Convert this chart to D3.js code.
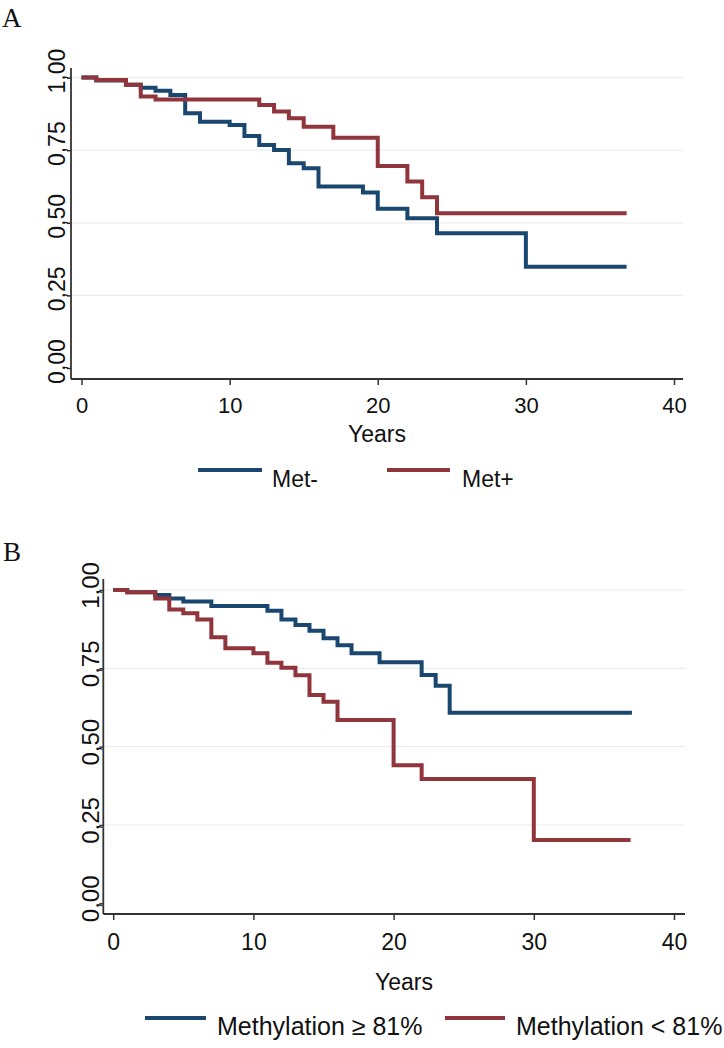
<!DOCTYPE html>
<html>
<head>
<meta charset="utf-8">
<script src="https://cdn.jsdelivr.net/npm/d3@7"></script>
<style>
  html, body { margin: 0; padding: 0; background: #fff; }
  svg { display: block; }
  text { font-family: "Liberation Sans", Arial, sans-serif; fill: #111; }
  .panel-label { font-family: "Liberation Serif", "Times New Roman", serif; }
</style>
</head>
<body>
<svg id="chart" width="724" height="1048"></svg>
<script>
// ---------- data ----------
const xTicks = [0, 10, 20, 30, 40];
const yTicks = [0, 0.25, 0.5, 0.75, 1];
const yTickLabels = ["0,00", "0,25", "0,50", "0,75", "1,00"];
const xAxisTitle = "Years";

// Panel A
const panelALabel = "A";
const seriesANames = ["Met-", "Met+"];
const metNegTimes = [0, 1, 3, 4, 5, 6, 7, 8, 10, 11, 12, 13, 14, 15, 16, 19, 20, 22, 24, 30, 36.8];
const metNegSurv  = [1, 0.99, 0.975, 0.965, 0.955, 0.94, 0.877, 0.848, 0.837, 0.799, 0.768, 0.751, 0.705, 0.688, 0.625, 0.604, 0.548, 0.516, 0.464, 0.349, 0.349];
const metPosTimes = [0, 1, 3, 4, 5, 12, 13, 14, 15, 17, 20, 22, 23, 24, 36.8];
const metPosSurv  = [1, 0.992, 0.975, 0.935, 0.925, 0.906, 0.883, 0.860, 0.831, 0.793, 0.696, 0.642, 0.588, 0.533, 0.533];

// Panel B
const panelBLabel = "B";
const seriesBNames = ["Methylation \u2265 81%", "Methylation < 81%"];
const methHighTimes = [0, 1, 3, 4, 5, 7, 11, 12, 13, 14, 15, 16, 17, 19, 22, 23, 24, 37];
const methHighSurv  = [1, 0.993, 0.984, 0.973, 0.963, 0.949, 0.934, 0.906, 0.888, 0.870, 0.846, 0.824, 0.798, 0.769, 0.729, 0.694, 0.608, 0.608];
const methLowTimes  = [0, 1, 3, 4, 5, 6, 7, 8, 10, 11, 12, 13, 14, 15, 16, 20, 22, 30, 36.9];
const methLowSurv   = [1, 0.993, 0.973, 0.938, 0.926, 0.906, 0.849, 0.814, 0.798, 0.768, 0.752, 0.728, 0.665, 0.643, 0.585, 0.441, 0.397, 0.202, 0.202];

const colors = ["#1a476f", "#90353b"];

// ---------- drawing ----------
const svg = d3.select("#chart");

function zip(t, s) { return t.map((v, i) => ({ t: v, s: s[i] })); }

function drawPanel(cfg) {
  const g = svg.append("g");
  const x = d3.scaleLinear().domain([0, 40]).range([cfg.x0, cfg.x40]);
  const y = d3.scaleLinear().domain([0, 1]).range([cfg.y0, cfg.y1]);

  // panel label
  g.append("text").attr("class", "panel-label")
    .attr("x", cfg.labelX).attr("y", cfg.labelY)
    .style("font-size", "27px").text(cfg.label);

  // gridlines
  g.selectAll("line.grid").data(yTicks.filter(d => d > 0)).enter()
    .append("line").attr("class", "grid")
    .attr("x1", cfg.left).attr("x2", cfg.right)
    .attr("y1", d => y(d)).attr("y2", d => y(d))
    .attr("stroke", "#ececec").attr("stroke-width", 1.2);

  // x axis
  const xa = g.append("g").attr("transform", `translate(0,${cfg.bottom})`)
    .call(d3.axisBottom(x).tickValues(xTicks).tickSize(6).tickFormat(d3.format("d")));
  xa.select(".domain").remove();
  xa.selectAll(".tick line").attr("stroke", "#333").attr("stroke-width", 1.5);
  xa.selectAll(".tick text").attr("y", cfg.xLabelDy).attr("dy", 0)
    .style("font-size", cfg.tickFont + "px").attr("fill", "#111");

  // y axis
  const ya = g.append("g").attr("transform", `translate(${cfg.left},0)`)
    .call(d3.axisLeft(y).tickValues(yTicks).tickSize(4).tickFormat((d, i) => yTickLabels[i]));
  ya.select(".domain").remove();
  ya.selectAll(".tick line").attr("stroke", "#333").attr("stroke-width", 1.5);
  ya.selectAll(".tick text")
    .attr("x", 0).attr("y", 0).attr("dy", 0)
    .attr("text-anchor", "middle")
    .attr("transform", `translate(${cfg.yLabelDx},${cfg.yLabelDy}) rotate(-90)`)
    .style("font-size", cfg.yTickFont + "px").attr("fill", "#111");

  // axis lines
  g.append("line").attr("x1", cfg.left).attr("x2", cfg.left)
    .attr("y1", cfg.top).attr("y2", cfg.bottom)
    .attr("stroke", "#333").attr("stroke-width", 1.8);
  g.append("line").attr("x1", cfg.left).attr("x2", cfg.right)
    .attr("y1", cfg.bottom).attr("y2", cfg.bottom)
    .attr("stroke", "#333").attr("stroke-width", 1.8);

  // x title
  g.append("text").attr("x", cfg.titleX).attr("y", cfg.titleY)
    .attr("text-anchor", "middle").style("font-size", cfg.titleFont + "px").text(xAxisTitle);

  // curves
  const line = d3.line().x(d => x(d.t)).y(d => y(d.s)).curve(d3.curveStepAfter);
  cfg.series.forEach((s, i) => {
    g.append("path").datum(s)
      .attr("d", line).attr("fill", "none")
      .attr("stroke", colors[i]).attr("stroke-width", 4)
      .attr("stroke-linejoin", "miter");
  });

  // legend
  cfg.names.forEach((n, i) => {
    const lg = cfg.legend[i];
    g.append("line").attr("x1", lg.x1).attr("x2", lg.x2)
      .attr("y1", cfg.legendLineY).attr("y2", cfg.legendLineY)
      .attr("stroke", colors[i]).attr("stroke-width", 4);
    g.append("text").attr("x", lg.tx).attr("y", cfg.legendTextY)
      .style("font-size", cfg.legendFont + "px").text(n);
  });
}

drawPanel({
  label: panelALabel, labelX: 2, labelY: 27,
  x0: 81.5, x40: 674, y0: 368, y1: 77.6,
  left: 71, right: 683, top: 68, bottom: 379,
  xLabelDy: 34, tickFont: 22, yTickFont: 23, yLabelDx: -6, yLabelDy: -7,
  titleX: 377, titleY: 442, titleFont: 23,
  series: [zip(metNegTimes, metNegSurv), zip(metPosTimes, metPosSurv)],
  names: seriesANames,
  legend: [{ x1: 198, x2: 262, tx: 272 }, { x1: 387, x2: 450, tx: 462 }],
  legendLineY: 470, legendTextY: 487, legendFont: 23
});

drawPanel({
  label: panelBLabel, labelX: 3, labelY: 561,
  x0: 113.2, x40: 674, y0: 903.3, y1: 590,
  left: 103.3, right: 685, top: 579, bottom: 914,
  xLabelDy: 36, tickFont: 23, yTickFont: 24, yLabelDx: -4, yLabelDy: -5,
  titleX: 404, titleY: 990, titleFont: 23,
  series: [zip(methHighTimes, methHighSurv), zip(methLowTimes, methLowSurv)],
  names: seriesBNames,
  legend: [{ x1: 145, x2: 206, tx: 217 }, { x1: 445, x2: 505, tx: 516 }],
  legendLineY: 1018, legendTextY: 1035, legendFont: 25
});
</script>
</body>
</html>
